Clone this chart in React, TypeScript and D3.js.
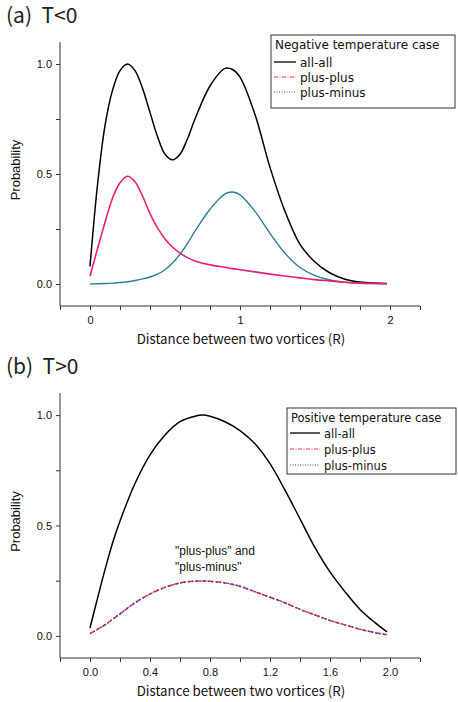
import React, { useEffect, useRef } from "react"
import * as d3 from "d3"

// panel (a), negative temperature
const negX = [0, 0.05, 0.1, 0.15, 0.2, 0.25, 0.3, 0.35, 0.4, 0.45, 0.5, 0.55, 0.6, 0.65, 0.7, 0.8, 0.9, 0.95, 1.0, 1.1, 1.2, 1.3, 1.4, 1.5, 1.6, 1.7, 1.8, 1.9, 1.98]
const negAll = [0.08, 0.45, 0.72, 0.88, 0.97, 1.0, 0.97, 0.89, 0.78, 0.67, 0.59, 0.565, 0.59, 0.66, 0.75, 0.9, 0.98, 0.975, 0.94, 0.77, 0.53, 0.33, 0.18, 0.1, 0.05, 0.022, 0.009, 0.004, 0.002]
const negPlusPlus = [0.035, 0.16, 0.28, 0.39, 0.46, 0.49, 0.465, 0.4, 0.32, 0.255, 0.205, 0.168, 0.14, 0.12, 0.105, 0.087, 0.076, 0.07, 0.065, 0.055, 0.045, 0.036, 0.028, 0.02, 0.014, 0.008, 0.004, 0.002, 0.001]
const negPlusMinus = [0, 0.001, 0.002, 0.004, 0.007, 0.01, 0.016, 0.023, 0.032, 0.045, 0.065, 0.095, 0.135, 0.185, 0.24, 0.34, 0.41, 0.418, 0.405, 0.33, 0.23, 0.14, 0.075, 0.038, 0.018, 0.008, 0.004, 0.002, 0.001]

// panel (b), positive temperature
const posX = [0, 0.05, 0.1, 0.15, 0.2, 0.3, 0.4, 0.5, 0.6, 0.7, 0.75, 0.8, 0.9, 1.0, 1.1, 1.2, 1.3, 1.4, 1.5, 1.6, 1.7, 1.8, 1.9, 1.98]
const posAll = [0.036, 0.17, 0.3, 0.42, 0.52, 0.69, 0.82, 0.91, 0.97, 0.995, 1.0, 0.995, 0.97, 0.93, 0.87, 0.78, 0.66, 0.53, 0.4, 0.29, 0.2, 0.12, 0.06, 0.018]
const posPlusPlus = [0.01, 0.03, 0.05, 0.075, 0.1, 0.15, 0.19, 0.22, 0.24, 0.248, 0.249, 0.247, 0.24, 0.225, 0.2, 0.175, 0.15, 0.12, 0.095, 0.07, 0.05, 0.03, 0.015, 0.005]
const posPlusMinus = [0.01, 0.03, 0.05, 0.075, 0.1, 0.15, 0.19, 0.22, 0.24, 0.248, 0.249, 0.247, 0.24, 0.225, 0.2, 0.175, 0.15, 0.12, 0.095, 0.07, 0.05, 0.03, 0.015, 0.005]

const xTicks = [-0.2, 0, 0.2, 0.4, 0.6, 0.8, 1.0, 1.2, 1.4, 1.6, 1.8, 2.0, 2.2]
const yTicks = [0, 0.25, 0.5, 0.75, 1.0]
const yLabels = [0, 0.5, 1.0]
const negXLabels = [0, 1, 2]
const posXLabels = [0, 0.4, 0.8, 1.2, 1.6, 2.0]
const seriesNames = ["all-all", "plus-plus", "plus-minus"]

const gothic = "'Noto Sans CJK JP', 'Noto Sans', sans-serif"
const arial = "'Liberation Sans', Arial, sans-serif"
const dejavu = "'DejaVu Sans', sans-serif"

function drawPanel(svg, opt) {
    const left = 60, right = 420
    const x = d3.scaleLinear().domain([-0.2, 2.2]).range([left, right])
    const y = d3.scaleLinear().domain([-0.1, 1.1]).range([opt.bottom, opt.top])
    const g = svg.append("g")

    // title
    g.append("text").attr("x", 6).attr("y", opt.top - 19)
        .attr("font-family", gothic).attr("font-size", 21).attr("fill", "#222")
        .attr("xml:space", "preserve")
        .text(opt.title)

    // axes
    const xAxis = d3.axisBottom(x).tickValues(xTicks).tickSize(4).tickPadding(6)
        .tickFormat(d => opt.xLabels.some(v => Math.abs(v - d) < 1e-9) ? opt.xFmt(d) : "")
    const gx = g.append("g").attr("transform", `translate(0,${opt.bottom})`).call(xAxis)
    const yAxis = d3.axisLeft(y).tickValues(yTicks).tickSize(4).tickPadding(4)
        .tickFormat(d => yLabels.some(v => Math.abs(v - d) < 1e-9) ? d3.format(".1f")(d) : "")
    const gy = g.append("g").attr("transform", `translate(${left},0)`).call(yAxis)
    for (const ax of [gx, gy]) {
        ax.select(".domain").attr("stroke", "#333").attr("stroke-width", 1)
        ax.selectAll(".tick line").attr("stroke", "#333")
        ax.selectAll(".tick text").attr("font-family", arial).attr("font-size", 11).attr("fill", "#111")
    }
    gx.select(".domain").attr("d", `M${left},0H${right}`)
    gy.select(".domain").attr("d", `M0,${opt.bottom}V${opt.top}`)

    g.append("text").attr("x", 241).attr("y", opt.bottom + 38)
        .attr("text-anchor", "middle").attr("font-family", gothic).attr("font-size", 13.3).attr("fill", "#111")
        .text("Distance between two vortices (R)")
    g.append("text")
        .attr("transform", `translate(20,${y(0.5) - 4}) rotate(-90)`)
        .attr("text-anchor", "middle").attr("font-family", arial).attr("font-size", 13).attr("fill", "#111")
        .text("Probability")

    const line = d3.line().x(d => x(d[0])).y(d => y(d[1])).curve(d3.curveCatmullRom.alpha(0.5))
    const pts = vals => opt.xs.map((v, i) => [v, vals[i]])

    for (const s of opt.series) {
        g.append("path").attr("d", line(pts(s.values)))
            .attr("fill", "none").attr("stroke", s.color).attr("stroke-width", s.width)
            .attr("stroke-dasharray", s.dash || null)
    }

    // legend
    const L = opt.legend
    const lg = g.append("g")
    lg.append("rect").attr("x", L.x).attr("y", L.y)
        .attr("width", L.w).attr("height", L.h)
        .attr("fill", "white").attr("stroke", "#333").attr("stroke-width", 1)
    lg.append("text").attr("x", L.x + 4).attr("y", L.y + 14)
        .attr("font-family", dejavu).attr("font-size", L.fs).attr("fill", "#111")
        .text(L.title)
    const styles = [
        { color: "#000", dash: null, width: 1.3 },
        { color: "#f03040", dash: "4,1.5,1,1.5", width: 1.2 },
        { color: "#4040c8", dash: "1,1.5", width: 1.2 }
    ]
    seriesNames.forEach((name, i) => {
        const cy = L.y + L.row0 + i * L.step
        lg.append("line").attr("x1", L.x + 3).attr("x2", L.x + L.lineW)
            .attr("y1", cy).attr("y2", cy)
            .attr("stroke", styles[i].color).attr("stroke-width", styles[i].width)
            .attr("stroke-dasharray", styles[i].dash)
        lg.append("text").attr("x", L.x + L.lineW + 4).attr("y", cy + 4.5)
            .attr("font-family", dejavu).attr("font-size", L.fs).attr("fill", "#111")
            .text(name)
    })
    return { x, y, g }
}

export default function App() {
    const ref = useRef(null)

    useEffect(() => {
        const svg = d3.select(ref.current)
        svg.selectAll("*").remove()

        drawPanel(svg, {
            top: 42, bottom: 306, title: "(a)  T<0",
            xs: negX, xLabels: negXLabels, xFmt: d3.format("d"),
            series: [
                { values: negAll, color: "#000", width: 1.5 },
                { values: negPlusMinus, color: "#2a7d98", width: 1.4 },
                { values: negPlusPlus, color: "#ec1f72", width: 1.6 }
            ],
            legend: { x: 271, y: 35, w: 184, h: 73, lineW: 25, row0: 27, step: 15, fs: 12, title: "Negative temperature case" }
        })

        const b = drawPanel(svg, {
            top: 393, bottom: 658, title: "(b)  T>0",
            xs: posX, xLabels: posXLabels, xFmt: d3.format(".1f"),
            series: [
                { values: posAll, color: "#000", width: 1.5 },
                { values: posPlusPlus, color: "#f02838", width: 1.5, dash: "5,2" },
                { values: posPlusMinus, color: "#3a3ad0", width: 1.5, dash: "1.5,2.5" }
            ],
            legend: { x: 287, y: 408, w: 169, h: 66, lineW: 33, row0: 25, step: 16, fs: 11.5, title: "Positive temperature case" }
        })

        b.g.append("text").attr("x", 175).attr("y", 555)
            .attr("font-family", arial).attr("font-size", 12).attr("fill", "#111")
            .text("\"plus-plus\" and")
        b.g.append("text").attr("x", 175).attr("y", 571)
            .attr("font-family", arial).attr("font-size", 12).attr("fill", "#111")
            .text("\"plus-minus\"")
    }, [])

    return <svg ref={ref} width={458} height={702} style={{ position: "absolute", left: 0, top: 0, background: "white" }} />
}
